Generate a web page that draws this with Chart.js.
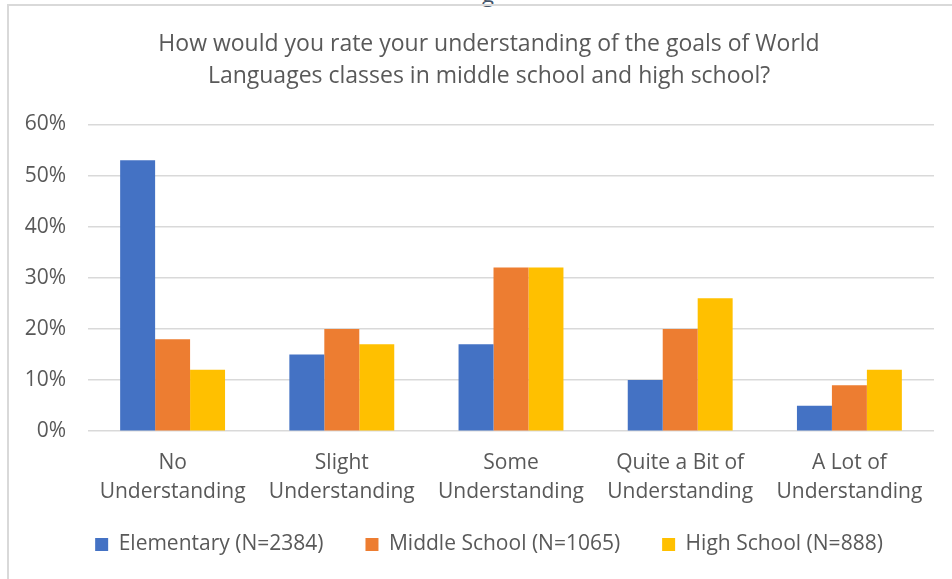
<!DOCTYPE html>
<html>
<head>
<meta charset="utf-8">
<script src="https://cdn.jsdelivr.net/npm/chart.js@4.4.1/dist/chart.umd.min.js"></script>
<style>
  html, body { margin: 0; padding: 0; background: #fff; overflow: hidden; }
  #frame {
    position: absolute; left: 7px; top: 4px; width: 945px; height: 575px;
    border-left: 2px solid #d9d9d9; border-top: 2px solid #d9d9d9;
  }
  #cut {
    position: absolute; left: 482px; top: -22px; font: 22px "Open Sans", sans-serif; color: #44546a;
  }
  canvas { position: absolute; left: 0; top: 0; }
</style>
</head>
<body>
<div id="cut">g</div>
<div id="frame"></div>
<canvas id="chart" width="952" height="579"></canvas>
<script>
// answers to the question, share of respondents (%)
const categories = [
  ['No', 'Understanding'],
  ['Slight', 'Understanding'],
  ['Some', 'Understanding'],
  ['Quite a Bit of', 'Understanding'],
  ['A Lot of', 'Understanding']
];
const elementary = [53, 15, 17, 10, 5];
const middleSchool = [18, 20, 32, 20, 9];
const highSchool = [12, 17, 32, 26, 12];
const seriesNames = ['Elementary (N=2384)', 'Middle School (N=1065)', 'High School (N=888)'];
const yTicks = [0, 10, 20, 30, 40, 50, 60];

const FONT = '"Open Sans", sans-serif';
const GREY = '#595959';

// axes are squeezed on purpose, so let their labels draw outside their boxes
const unclipLabels = {
  id: 'unclipLabels',
  afterLayout(chart) {
    chart.scales.y.left = 0;
    chart.scales.x.bottom = chart.height;
  }
};

const ctx = document.getElementById('chart').getContext('2d');
new Chart(ctx, {
  type: 'bar',
  data: {
    labels: categories,
    datasets: [
      { label: seriesNames[0], data: elementary, backgroundColor: '#4472c4' },
      { label: seriesNames[1], data: middleSchool, backgroundColor: '#ed7d31' },
      { label: seriesNames[2], data: highSchool, backgroundColor: '#ffc000' }
    ]
  },
  options: {
    responsive: false,
    animation: false,
    layout: { padding: { left: 44, right: 18, top: 28, bottom: 14 } },
    datasets: {
      bar: { barPercentage: 1, categoryPercentage: 0.62 }
    },
    plugins: {
      title: {
        display: true,
        text: ['How would you rate your understanding of the goals of World',
               'Languages classes in middle school and high school?'],
        color: GREY,
        font: { family: FONT, size: 23, weight: 'normal', lineHeight: 1.4 },
        padding: { top: 0, bottom: 32 }
      },
      legend: {
        position: 'bottom',
        labels: {
          color: GREY,
          font: { family: FONT, size: 21 },
          boxWidth: 13,
          boxHeight: 13,
          padding: 42
        }
      },
      tooltip: { enabled: false }
    },
    scales: {
      x: {
        grid: { display: false },
        border: { display: false },
        afterFit: (axis) => { axis.height -= 24; },
        ticks: {
          color: GREY,
          font: { family: FONT, size: 21, lineHeight: 1.4 },
          maxRotation: 0,
          autoSkip: false,
          padding: 9
        }
      },
      y: {
        min: 0,
        max: 60,
        afterBuildTicks: (axis) => { axis.ticks = yTicks.map(v => ({ value: v })); },
        afterFit: (axis) => { axis.width = 44; },
        grid: { color: '#d9d9d9', lineWidth: 1.5, drawTicks: false },
        border: { display: false },
        ticks: {
          color: GREY,
          font: { family: FONT, size: 21 },
          padding: 22,
          callback: (v) => v + '%'
        }
      }
    }
  },
  plugins: [unclipLabels]
});
</script>
</body>
</html>
